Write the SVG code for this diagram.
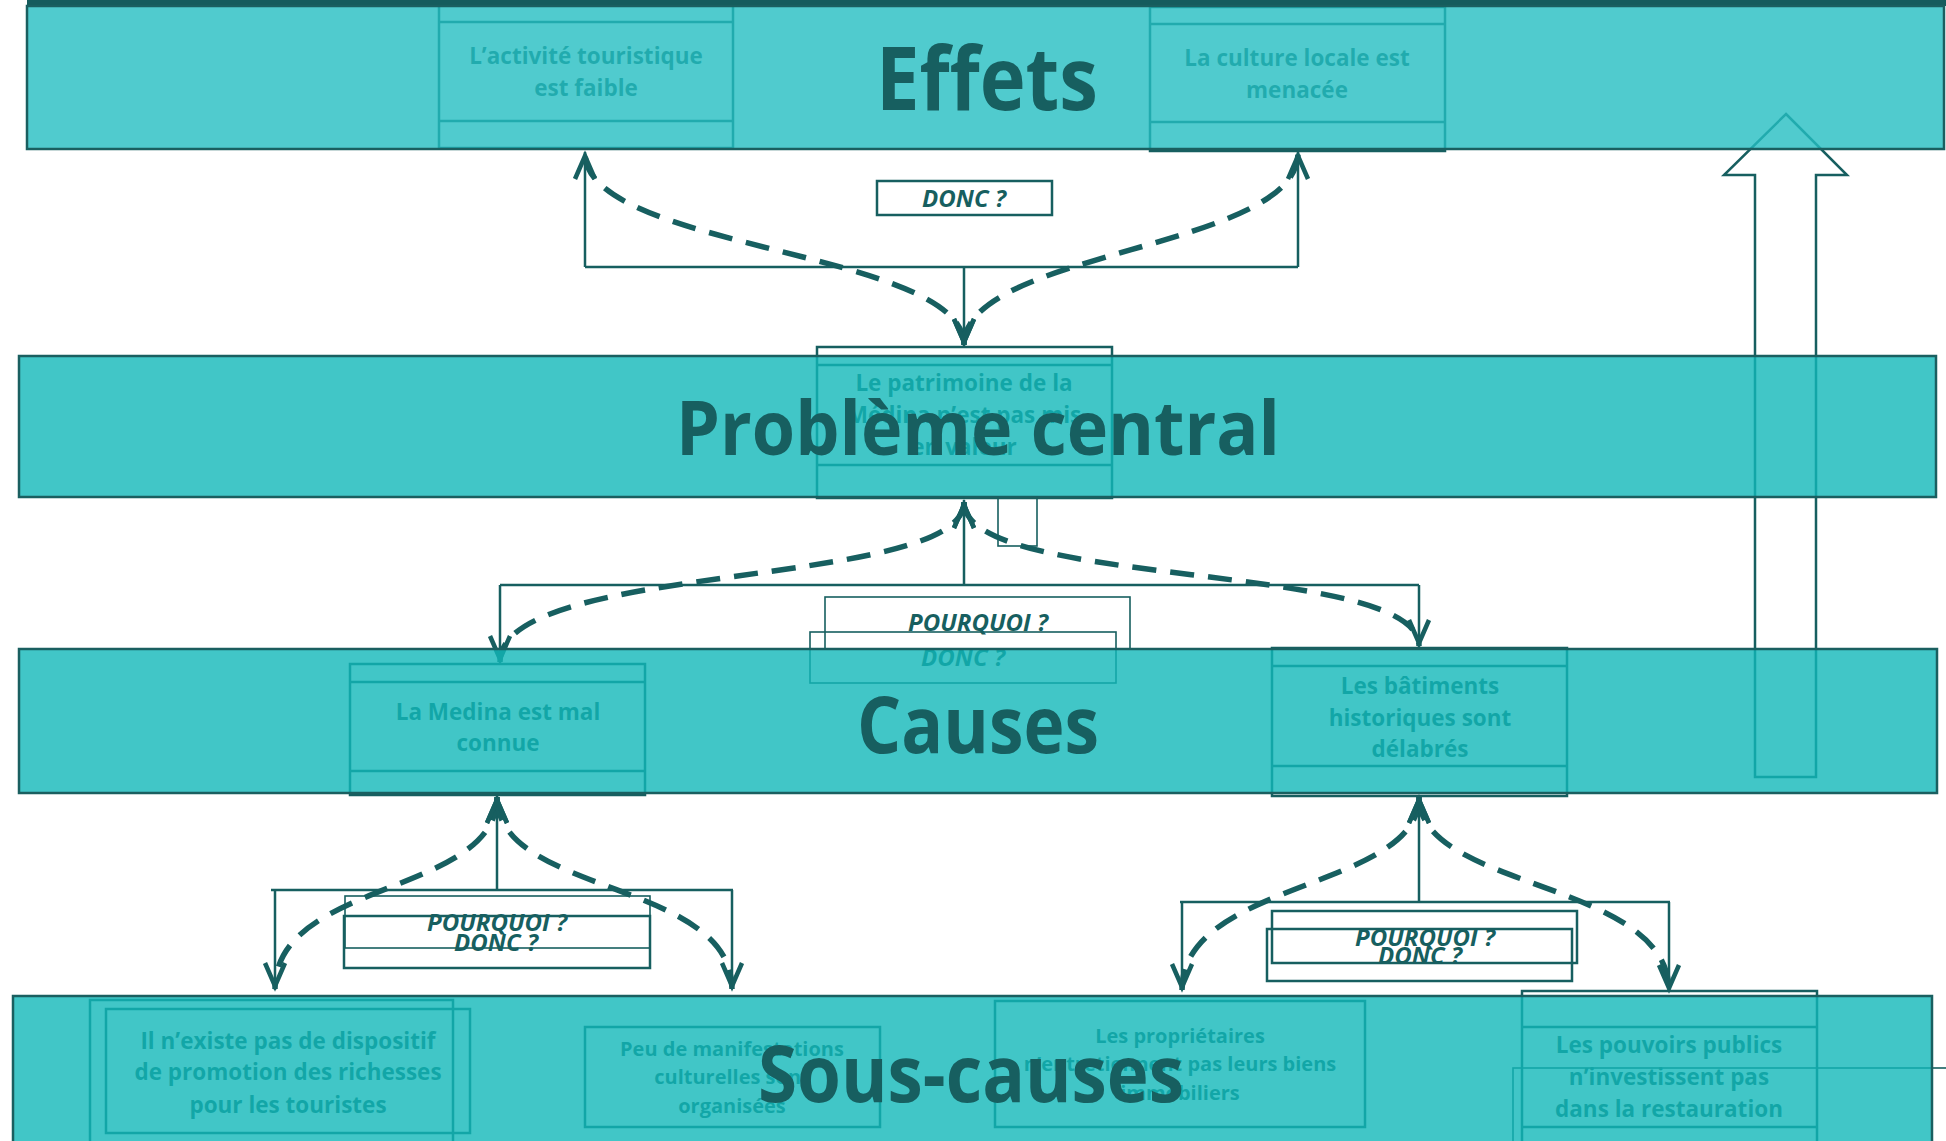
<svg xmlns="http://www.w3.org/2000/svg" width="1946" height="1141" viewBox="0 0 1946 1141">
  <style>
    .band { stroke: #1a5f60; stroke-width: 2.5; fill-opacity: 0.8; }
    .b1 { fill: #24bec2; }
    .b2 { fill: #12b8b9; }
    .title { font-family: "Open Sans", "Noto Sans", sans-serif; font-weight: 700; fill: #175f60; text-anchor: middle; }
    .frame { fill: none; stroke: #175f60; stroke-width: 2.5; }
    .thin { fill: none; stroke: #175f60; stroke-width: 1.6; }
    .txt { font-family: "Open Sans", "Noto Sans", sans-serif; font-weight: 700; font-size: 22.5px; fill: #175f60; text-anchor: middle; }
    .sm { font-size: 20px; }
    .q { font-family: "Open Sans", "Noto Sans", sans-serif; font-weight: 700; font-style: italic; font-size: 24px; fill: #175f60; text-anchor: middle; }
    .link { fill: none; stroke: #175f60; stroke-width: 2.5; }
    .flow { fill: none; stroke: #175f60; stroke-width: 5.5; stroke-dasharray: 24 14; marker-start: url(#vee); marker-end: url(#vee); }
  </style>
  <defs>
    <marker id="vee" viewBox="-30 -14 34 28" refX="0" refY="0" markerWidth="34" markerHeight="28" markerUnits="userSpaceOnUse" orient="auto-start-reverse">
      <path d="M-26,-10 L-3,0 L-26,10" fill="none" stroke="#175f60" stroke-width="4.5"/>
    </marker>
  </defs>

  <!-- hollow block arrow on the right: causes lead up to effects -->
  <g id="progression-arrow">
    <polygon class="frame" points="1786,114 1847,175 1816,175 1816,777 1755,777 1755,175 1724,175"/>
  </g>

  <!-- connectors: solid elbows and dashed why/so curves -->
  <g id="connectors">
    <!-- central problem to effects -->
    <path class="link" d="M964,347 V267 M585,267 H1298 M585,267 V152 M1298,267 V152"/>
    <path class="flow" d="M964,345 C964,250 585,250 585,153"/>
    <path class="flow" d="M964,345 C964,250 1298,250 1298,153"/>
    <!-- central problem to causes -->
    <path class="link" d="M964,500 V585 M500,585 H1419 M500,585 V663 M1419,585 V647"/>
    <path class="flow" d="M964,502 C964,590 500,560 500,662"/>
    <path class="flow" d="M964,502 C964,590 1419,560 1419,646"/>
    <!-- first cause to its sub-causes -->
    <path class="link" d="M497,795 V890 M271,890 H733 M275,890 V990 M732,890 V989"/>
    <path class="flow" d="M497,797 C497,895 275,880 275,989"/>
    <path class="flow" d="M497,797 C497,895 732,880 732,989"/>
    <!-- second cause to its sub-causes -->
    <path class="link" d="M1419,795 V902 M1180,902 H1670 M1182,902 V990 M1669,902 V992"/>
    <path class="flow" d="M1419,797 C1419,890 1182,880 1182,990"/>
    <path class="flow" d="M1419,797 C1419,890 1669,880 1669,991"/>
  </g>

  <!-- question labels -->
  <g id="q-effets">
    <rect class="frame" x="877" y="181" width="175" height="34"/>
    <text class="q" x="964" y="207">DONC ?</text>
  </g>
  <g id="q-probleme">
    <rect class="thin" x="825" y="597" width="305" height="52"/>
    <rect class="thin" x="810" y="632" width="306" height="51"/>
    <text class="q" x="978" y="631">POURQUOI ?</text>
    <text class="q" x="963" y="666">DONC ?</text>
  </g>
  <g id="q-cause1">
    <rect class="thin" x="345" y="896" width="305" height="52"/>
    <rect class="frame" x="344" y="916" width="306" height="52"/>
    <text class="q" x="497" y="931">POURQUOI ?</text>
    <text class="q" x="496" y="951">DONC ?</text>
  </g>
  <g id="q-cause2">
    <rect class="frame" x="1272" y="911" width="305" height="52"/>
    <rect class="frame" x="1267" y="929" width="305" height="52"/>
    <text class="q" x="1425" y="946">POURQUOI ?</text>
    <text class="q" x="1420" y="964">DONC ?</text>
  </g>

  <!-- effect boxes -->
  <g id="effet-tourisme">
    <rect class="frame" x="439" y="4" width="294" height="144"/>
    <path class="frame" d="M439,22 H733 M439,121 H733"/>
    <text class="txt" x="586" y="64">L’activité touristique</text>
    <text class="txt" x="586" y="96">est faible</text>
  </g>
  <g id="effet-culture">
    <rect class="frame" x="1150" y="7" width="295" height="144"/>
    <path class="frame" d="M1150,24 H1445 M1150,122 H1445"/>
    <text class="txt" x="1297" y="66">La culture locale est</text>
    <text class="txt" x="1297" y="98">menacée</text>
  </g>

  <!-- central problem box -->
  <g id="probleme">
    <rect class="frame" x="817" y="347" width="295" height="151"/>
    <path class="frame" d="M817,365 H1112 M817,465 H1112"/>
    <text class="txt" x="964" y="391">Le patrimoine de la</text>
    <text class="txt" x="964" y="423">Médina n’est pas mis</text>
    <text class="txt" x="964" y="455">en valeur</text>
    <rect class="thin" x="998" y="497" width="39" height="49"/>
  </g>

  <!-- cause boxes -->
  <g id="cause-medina">
    <rect class="frame" x="350" y="664" width="295" height="131"/>
    <path class="frame" d="M350,682 H645 M350,771 H645"/>
    <text class="txt" x="498" y="720">La Medina est mal</text>
    <text class="txt" x="498" y="751">connue</text>
  </g>
  <g id="cause-batiments">
    <rect class="frame" x="1272" y="648" width="295" height="148"/>
    <path class="frame" d="M1272,666 H1567 M1272,766 H1567"/>
    <text class="txt" x="1420" y="694">Les bâtiments</text>
    <text class="txt" x="1420" y="726">historiques sont</text>
    <text class="txt" x="1420" y="757">délabrés</text>
  </g>

  <!-- sub-cause boxes -->
  <g id="sc-promotion">
    <rect class="frame" x="90" y="1000" width="363" height="160"/>
    <rect class="frame" x="106" y="1009" width="364" height="124"/>
    <text class="txt" x="288" y="1049">Il n’existe pas de dispositif</text>
    <text class="txt" x="288" y="1080">de promotion des richesses</text>
    <text class="txt" x="288" y="1113">pour les touristes</text>
  </g>
  <g id="sc-manifestations">
    <rect class="frame" x="585" y="1027" width="295" height="100"/>
    <text class="txt sm" x="732" y="1056">Peu de manifestations</text>
    <text class="txt sm" x="732" y="1084">culturelles sont</text>
    <text class="txt sm" x="732" y="1113">organisées</text>
  </g>
  <g id="sc-proprietaires">
    <rect class="frame" x="995" y="1001" width="370" height="126"/>
    <text class="txt sm" x="1180" y="1043">Les propriétaires</text>
    <text class="txt sm" x="1180" y="1071">n’entretiennent pas leurs biens</text>
    <text class="txt sm" x="1180" y="1100">immobiliers</text>
  </g>
  <g id="sc-pouvoirs">
    <rect class="frame" x="1522" y="991" width="295" height="170"/>
    <path class="frame" d="M1522,1027 H1817 M1522,1127 H1817"/>
    <rect class="thin" x="1513" y="1068" width="450" height="100"/>
    <text class="txt" x="1669" y="1053">Les pouvoirs publics</text>
    <text class="txt" x="1669" y="1085">n’investissent pas</text>
    <text class="txt" x="1669" y="1117">dans la restauration</text>
  </g>

  <!-- level bands with their headings -->
  <g id="band-effets">
    <rect x="27" y="0" width="1919" height="6" fill="#155c5d"/>
    <rect class="band b1" x="27" y="6" width="1917" height="143"/>
    <text class="title" x="987" y="110" font-size="87" textLength="222" lengthAdjust="spacingAndGlyphs">Effets</text>
  </g>
  <g id="band-probleme">
    <rect class="band b2" x="19" y="356" width="1917" height="141"/>
    <text class="title" x="978" y="455" font-size="75" textLength="604" lengthAdjust="spacingAndGlyphs">Problème central</text>
  </g>
  <g id="band-causes">
    <rect class="band b2" x="19" y="649" width="1918" height="144"/>
    <text class="title" x="978" y="753" font-size="79" textLength="242" lengthAdjust="spacingAndGlyphs">Causes</text>
  </g>
  <g id="band-sous-causes">
    <rect class="band b2" x="13" y="996" width="1919" height="160"/>
    <text class="title" x="971" y="1102" font-size="78" textLength="426" lengthAdjust="spacingAndGlyphs">Sous-causes</text>
  </g>
</svg>
